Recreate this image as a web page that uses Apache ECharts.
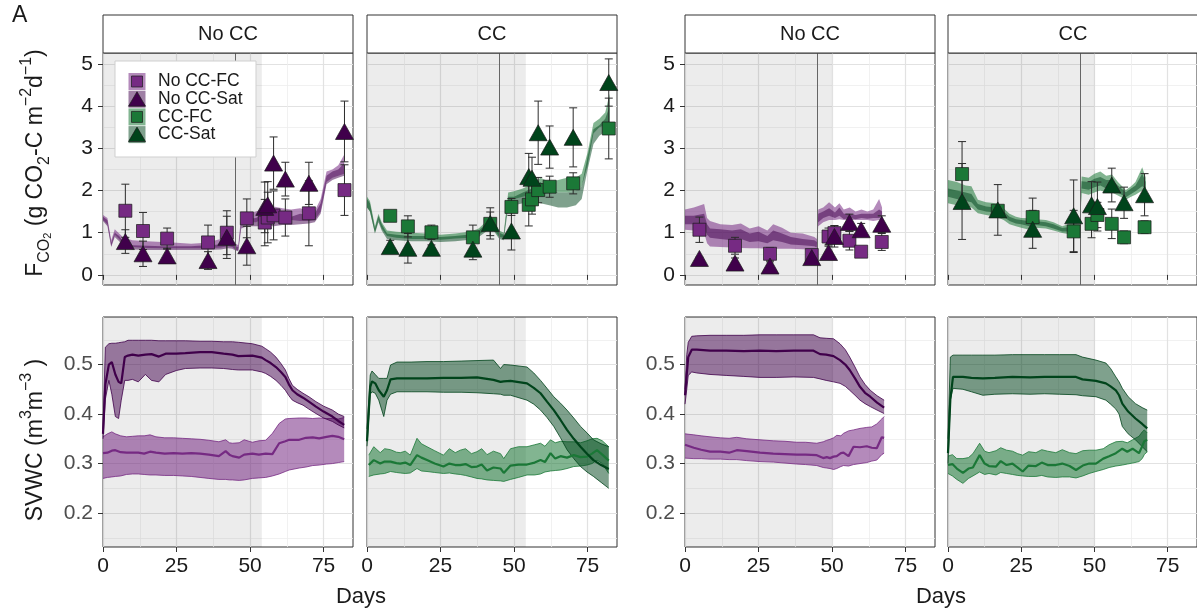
<!DOCTYPE html>
<html>
<head>
<meta charset="utf-8">
<script src="https://cdn.jsdelivr.net/npm/echarts@6/dist/echarts.min.js"></script>
<style>
html, body { margin: 0; padding: 0; background: #fff; }
#chart { width: 1197px; height: 612px; }
</style>
</head>
<body>
<div id="chart"></div>
<script>
// ---- data ----
const stripLabels = ['No CC', 'CC', 'No CC', 'CC']
const legendLabels = ['No CC-FC', 'No CC-Sat', 'CC-FC', 'CC-Sat']
const xTicks = [0, 25, 50, 75]
const fluxTicks = [0, 1, 2, 3, 4, 5]
const swcTicks = [0.2, 0.3, 0.4, 0.5]

// flux model ribbons: [day, lower, upper]
const fluxNoCC1FC = [[0,1.30,1.42],[1.5,1.20,1.35],[2.8,0.68,0.82],[4,0.95,1.08],[5.5,0.85,0.98],[7,0.72,0.88],[10,0.66,0.82],[15,0.64,0.80],[20,0.63,0.78],[25,0.63,0.76],[30,0.63,0.74],[35,0.63,0.76],[40,0.65,0.85],[42.5,0.68,0.95],[44,0.66,0.88],[45,0.60,0.75],[46,0.58,0.70],[47,1.20,1.42],[49,1.25,1.45],[52,1.25,1.50],[55,1.35,1.58],[58,1.35,1.62],[61,1.30,1.58],[64,1.30,1.55],[67,1.28,1.58],[70,1.28,1.52],[72,1.30,1.52],[74,1.50,1.80],[76,2.20,2.45],[78,2.30,2.50],[80,2.35,2.60],[82,2.40,2.85]]
const fluxNoCC1Sat = [[0,1.28,1.38],[1.5,1.15,1.30],[2.8,0.66,0.76],[4,0.90,1.00],[5.5,0.80,0.92],[7,0.65,0.78],[10,0.60,0.70],[15,0.59,0.69],[20,0.59,0.68],[25,0.59,0.68],[30,0.59,0.68],[35,0.59,0.70],[40,0.60,0.72],[42.5,0.63,0.80],[44,0.62,0.76],[45,0.58,0.68],[46,0.56,0.66],[47,1.10,1.30],[49,1.15,1.32],[52,1.15,1.35],[55,1.15,1.45],[58,1.15,1.42],[61,1.18,1.40],[64,1.18,1.38],[67,1.20,1.45],[70,1.22,1.42],[72,1.25,1.45],[74,1.45,1.70],[76,2.15,2.35],[78,2.25,2.45],[80,2.30,2.50],[82,2.35,2.65]]
const fluxCC1FC = [[0,1.60,1.85],[1,1.50,1.75],[2.7,1.00,1.15],[3.9,1.30,1.45],[5,1.10,1.25],[6.8,0.92,1.05],[10,0.88,1.02],[15,0.85,1.00],[20,0.85,0.98],[25,0.83,0.95],[30,0.86,0.98],[35,0.88,1.02],[38,0.95,1.10],[41,1.10,1.30],[43,1.10,1.30],[45,0.90,1.05],[46.5,0.88,1.00],[48,1.75,1.95],[50,1.80,1.98],[53,1.85,2.05],[56,1.90,2.15],[59,1.90,2.30],[62,1.95,2.20],[65,1.95,2.25],[68,1.95,2.30],[71,2.00,2.30],[73,2.10,2.40],[75,2.60,2.90],[77,3.35,3.60],[79,3.50,3.70],[81,3.55,3.85],[82.5,3.60,4.30]]
const fluxCC1Sat = [[0,1.60,1.80],[1,1.50,1.70],[2.7,0.98,1.10],[3.9,1.25,1.40],[5,1.05,1.20],[6.8,0.85,0.98],[10,0.82,0.95],[15,0.80,0.92],[20,0.80,0.92],[25,0.78,0.90],[30,0.80,0.92],[35,0.83,0.96],[38,0.90,1.05],[41,1.05,1.25],[43,1.05,1.25],[45,0.85,1.00],[46.5,0.82,0.95],[48,1.60,1.85],[50,1.65,1.85],[53,1.70,1.95],[56,1.75,2.05],[59,1.70,2.20],[62,1.65,2.00],[65,1.60,1.95],[68,1.60,1.95],[71,1.65,2.00],[73,1.80,2.10],[75,2.50,2.80],[77,3.10,3.45],[79,3.30,3.55],[81,3.40,3.70],[82.5,3.50,4.00]]
const fluxNoCC2FC = [[0,1.07,1.55],[3,1.05,1.60],[6.5,1.00,1.68],[7.5,0.75,1.35],[8.5,0.67,1.28],[12,0.66,1.20],[16,0.65,1.18],[19,0.64,1.22],[22,0.63,1.10],[25,0.63,1.15],[28,0.62,1.05],[30,0.62,1.20],[33,0.62,1.12],[36,0.62,1.00],[40,0.61,0.98],[44,0.60,0.90],[44.8,0.58,0.85],[45.3,1.15,1.55],[47,1.25,1.60],[49,1.30,1.72],[51,1.30,1.60],[52.5,1.32,1.70],[54,1.30,1.55],[56,1.30,1.60],[58,1.30,1.50],[60,1.30,1.55],[62,1.30,1.50],[64,1.28,1.55],[66,1.30,1.80],[67,1.35,1.60]]
const fluxNoCC2Sat = [[0,1.20,1.40],[3,1.20,1.40],[6.5,1.15,1.45],[7.5,0.95,1.20],[8.5,0.88,1.10],[12,0.85,1.08],[16,0.82,1.05],[19,0.85,1.08],[22,0.78,0.98],[25,0.80,1.02],[28,0.75,0.92],[30,0.82,1.05],[33,0.78,0.98],[36,0.72,0.90],[40,0.70,0.85],[44,0.68,0.82],[44.8,0.65,0.78],[45.3,1.25,1.45],[47,1.35,1.50],[49,1.40,1.58],[51,1.35,1.48],[52.5,1.40,1.60],[54,1.32,1.45],[56,1.35,1.45],[58,1.32,1.42],[60,1.35,1.45],[62,1.33,1.45],[64,1.35,1.45],[66,1.35,1.55],[67,1.38,1.50]]
const fluxCC2FC = [[0,1.70,2.25],[3,1.65,2.20],[6,1.62,2.12],[8,1.60,2.10],[10.2,1.46,1.78],[13,1.42,1.72],[16.4,1.38,1.70],[19,1.30,1.58],[21,1.20,1.45],[23.2,1.15,1.38],[25,1.12,1.35],[27.8,1.07,1.34],[30,1.12,1.32],[33.4,1.10,1.30],[36,1.05,1.25],[39,0.99,1.15],[41,0.97,1.20],[43.6,0.95,1.22],[45,0.96,1.20],[45.6,1.94,2.33],[48,1.90,2.30],[50,1.95,2.40],[52,2.00,2.45],[54,1.95,2.35],[56,1.95,2.38],[58,1.88,2.20],[60.7,1.78,2.01],[62.5,1.85,2.10],[64,1.90,2.20],[66.3,2.00,2.55],[67.5,1.95,2.30]]
const fluxCC2Sat = [[0,1.85,2.05],[3,1.80,2.00],[6,1.75,1.95],[8,1.72,1.92],[10.2,1.55,1.68],[13,1.50,1.62],[16.4,1.48,1.60],[19,1.38,1.50],[21,1.28,1.38],[23.2,1.22,1.32],[25,1.20,1.30],[27.8,1.15,1.27],[30,1.18,1.27],[33.4,1.15,1.25],[36,1.10,1.20],[39,1.03,1.11],[41,1.03,1.13],[43.6,1.02,1.13],[45,1.03,1.12],[45.6,2.05,2.22],[48,2.02,2.20],[50,2.08,2.28],[52,2.12,2.32],[54,2.05,2.25],[56,2.05,2.25],[58,1.95,2.12],[60.7,1.84,1.96],[62.5,1.92,2.05],[64,1.98,2.12],[66.3,2.10,2.40],[67.5,2.05,2.20]]

// measured fluxes (mean and error)
const daysNoCC1 = [7.6, 13.6, 21.8, 35.7, 42.1, 48.9, 55, 56, 58, 62, 70, 82.1]
const noCC1FC = [1.52, 1.04, 0.86, 0.77, 1.00, 1.34, 1.24, 1.36, 1.41, 1.36, 1.46, 2.01]
const noCC1FCErr = [0.63, 0.44, 0.25, 0.41, 0.52, 0.46, 0.55, 0.60, 0.58, 0.44, 0.77, 0.60]
const noCC1Sat = [0.79, 0.50, 0.45, 0.34, 0.89, 0.69, 1.60, 1.66, 2.65, 2.27, 2.17, 3.40]
const noCC1SatErr = [0.28, 0.30, 0.18, 0.21, 0.50, 0.46, 0.60, 0.55, 0.62, 0.40, 0.50, 0.72]
const daysCC1 = [7.9, 13.9, 21.9, 36, 41.9, 49.1, 55, 56.1, 58.2, 62.1, 70.1, 82.2]
const cc1FC = [1.40, 1.15, 1.01, 0.89, 1.21, 1.61, 1.66, 1.79, 2.01, 2.09, 2.17, 3.47]
const cc1FCErr = [0.03, 0.25, 0.17, 0.29, 0.28, 0.20, 0.50, 0.35, 0.30, 0.25, 0.25, 0.72]
const cc1Sat = [0.67, 0.63, 0.63, 0.61, 1.22, 1.04, 2.33, 2.29, 3.37, 3.03, 3.26, 4.56]
const cc1SatErr = [0.15, 0.35, 0.08, 0.25, 0.37, 0.45, 0.55, 0.50, 0.75, 0.50, 0.70, 0.56]
const daysNoCC2 = [4.9, 17, 28.9, 43.1, 48.8, 50.8, 55.9, 59.9, 66.9]
const noCC2FC = [1.07, 0.69, 0.50, 0.47, 0.91, 0.99, 0.81, 0.55, 0.78]
const noCC2FCErr = [0.30, 0.20, 0.15, 0.10, 0.20, 0.18, 0.22, 0.05, 0.20]
const noCC2Sat = [0.39, 0.28, 0.21, 0.41, 0.53, 0.91, 1.24, 1.07, 1.20]
const noCC2SatErr = [0.03, 0.12, 0.10, 0.10, 0.15, 0.25, 0.20, 0.15, 0.20]
const daysCC2 = [4.8, 17, 28.9, 42.9, 49, 51, 55.9, 60.1, 67.1]
const cc2FC = [2.39, 1.52, 1.37, 1.03, 1.21, 1.42, 1.21, 0.89, 1.13]
const cc2FCErr = [0.77, 0.10, 0.45, 0.50, 0.33, 0.30, 0.35, 0.15, 0.15]
const cc2Sat = [1.74, 1.54, 1.08, 1.40, 1.66, 1.62, 2.13, 1.71, 1.90]
const cc2SatErr = [0.90, 0.60, 0.45, 0.85, 0.55, 0.58, 0.40, 0.37, 0.50]

// soil water content: [day, lower, mean, upper]
const swcNoCC1Sat = [[0,0.350,0.360,0.370],[0.8,0.430,0.460,0.535],[2,0.468,0.500,0.542],[3,0.440,0.505,0.543],[4.2,0.395,0.480,0.543],[5.3,0.391,0.465,0.544],[6.2,0.428,0.462,0.545],[7.4,0.468,0.515,0.546],[8.5,0.468,0.518,0.549],[10,0.470,0.520,0.549],[12,0.465,0.518,0.549],[14.4,0.480,0.520,0.549],[16.5,0.468,0.521,0.549],[19,0.465,0.516,0.548],[21.3,0.480,0.522,0.548],[25,0.488,0.522,0.548],[28,0.492,0.523,0.548],[33,0.493,0.525,0.547],[37,0.493,0.525,0.547],[41,0.492,0.522,0.546],[44,0.490,0.520,0.546],[46,0.489,0.517,0.545],[50.8,0.489,0.518,0.542],[54,0.485,0.514,0.537],[55.3,0.482,0.509,0.532],[57,0.476,0.503,0.525],[58.8,0.468,0.495,0.515],[60.5,0.458,0.485,0.502],[62,0.448,0.475,0.489],[63.2,0.437,0.460,0.472],[64.4,0.428,0.448,0.458],[66,0.423,0.440,0.450],[68,0.418,0.433,0.442],[70,0.410,0.425,0.435],[72.4,0.401,0.415,0.425],[75,0.392,0.405,0.416],[78,0.385,0.395,0.408],[80,0.378,0.386,0.400],[82,0.372,0.378,0.395]]
const swcNoCC1FC = [[0,0.270,0.321,0.354],[1.5,0.272,0.322,0.360],[3,0.273,0.326,0.364],[4.2,0.274,0.327,0.360],[6,0.275,0.323,0.356],[8,0.278,0.322,0.354],[10,0.279,0.322,0.355],[12,0.279,0.322,0.356],[14,0.278,0.320,0.356],[16,0.277,0.324,0.358],[18,0.277,0.322,0.354],[21,0.276,0.320,0.352],[24,0.276,0.321,0.352],[27,0.275,0.320,0.351],[30,0.274,0.321,0.350],[33,0.272,0.320,0.349],[36,0.270,0.318,0.347],[39.4,0.268,0.315,0.344],[41.7,0.268,0.325,0.348],[43,0.267,0.318,0.342],[44,0.267,0.315,0.341],[46.3,0.266,0.312,0.342],[48,0.267,0.318,0.348],[50.8,0.270,0.320,0.343],[53,0.271,0.318,0.346],[55.3,0.272,0.320,0.347],[57.6,0.275,0.319,0.361],[59.9,0.279,0.341,0.381],[62,0.284,0.345,0.390],[63.3,0.287,0.348,0.391],[66.7,0.291,0.348,0.392],[69,0.293,0.352,0.392],[71.3,0.296,0.353,0.391],[73.5,0.297,0.351,0.392],[76,0.299,0.354,0.391],[78,0.300,0.356,0.391],[80,0.302,0.354,0.390],[82,0.304,0.349,0.393]]
const swcCC1Sat = [[0,0.335,0.345,0.370],[1.1,0.440,0.455,0.479],[1.7,0.445,0.466,0.487],[2.8,0.442,0.462,0.480],[4,0.428,0.448,0.472],[5.7,0.395,0.435,0.472],[6.8,0.428,0.448,0.472],[8,0.440,0.470,0.499],[10.2,0.445,0.472,0.505],[15,0.445,0.472,0.505],[20.4,0.445,0.472,0.506],[26,0.444,0.473,0.506],[32,0.444,0.473,0.507],[37.4,0.443,0.474,0.508],[43,0.441,0.469,0.509],[45.4,0.440,0.465,0.492],[46.5,0.438,0.466,0.500],[48.8,0.438,0.467,0.499],[54.4,0.428,0.462,0.495],[56.7,0.420,0.453,0.483],[59,0.408,0.442,0.468],[61.2,0.393,0.425,0.452],[63.5,0.375,0.408,0.435],[65.8,0.352,0.388,0.422],[68,0.328,0.368,0.408],[70.3,0.310,0.350,0.392],[72.6,0.294,0.334,0.375],[74.8,0.283,0.320,0.362],[77,0.274,0.307,0.348],[79.6,0.262,0.297,0.340],[82.2,0.250,0.289,0.334]]
const swcCC1FC = [[0.6,0.274,0.297,0.317],[2.3,0.277,0.307,0.334],[4.5,0.279,0.300,0.322],[6,0.280,0.304,0.330],[8,0.284,0.304,0.328],[10,0.282,0.301,0.323],[11.3,0.281,0.300,0.322],[13,0.280,0.302,0.325],[14.7,0.281,0.297,0.317],[17,0.290,0.317,0.351],[18.5,0.285,0.312,0.340],[20.4,0.284,0.307,0.334],[23,0.282,0.300,0.326],[26,0.280,0.294,0.317],[28,0.281,0.300,0.330],[30,0.279,0.297,0.322],[31.7,0.278,0.297,0.327],[33.5,0.276,0.299,0.330],[35.5,0.273,0.293,0.320],[37.4,0.270,0.294,0.324],[39,0.269,0.298,0.330],[40.8,0.267,0.286,0.318],[43,0.266,0.292,0.325],[45.4,0.265,0.290,0.320],[46.5,0.264,0.281,0.310],[48.8,0.268,0.296,0.330],[51.5,0.272,0.298,0.334],[54.4,0.277,0.298,0.334],[57,0.277,0.302,0.338],[59,0.279,0.307,0.341],[60.5,0.283,0.303,0.335],[62.4,0.285,0.321,0.348],[64,0.286,0.310,0.342],[65.8,0.287,0.315,0.345],[68,0.290,0.312,0.344],[70.3,0.294,0.317,0.344],[72.6,0.295,0.313,0.342],[74.8,0.297,0.314,0.346],[76.5,0.300,0.320,0.350],[78.2,0.307,0.327,0.351],[80,0.300,0.318,0.346],[82.2,0.280,0.306,0.334]]
const swcNoCC2Sat = [[0,0.420,0.438,0.450],[0.6,0.450,0.480,0.520],[1.1,0.478,0.515,0.545],[2.3,0.485,0.530,0.557],[4,0.483,0.530,0.558],[8.5,0.480,0.528,0.559],[14,0.478,0.528,0.559],[20,0.476,0.527,0.559],[25.5,0.474,0.528,0.560],[31,0.474,0.527,0.560],[37,0.475,0.528,0.560],[43.7,0.474,0.528,0.560],[45.9,0.471,0.521,0.554],[48,0.468,0.520,0.553],[50.5,0.465,0.517,0.552],[52.7,0.462,0.509,0.542],[54.5,0.456,0.500,0.530],[56,0.448,0.489,0.515],[57.8,0.438,0.472,0.495],[59.5,0.428,0.455,0.475],[61.2,0.421,0.443,0.460],[63,0.415,0.435,0.448],[65.3,0.408,0.423,0.437],[67.7,0.401,0.413,0.428]]
const swcNoCC2FC = [[0,0.311,0.338,0.360],[3,0.310,0.332,0.358],[5.5,0.310,0.328,0.356],[8.5,0.309,0.324,0.354],[12,0.309,0.324,0.352],[15,0.308,0.322,0.351],[17.6,0.308,0.327,0.353],[21,0.306,0.325,0.350],[25.5,0.304,0.322,0.348],[30,0.303,0.320,0.346],[34,0.301,0.319,0.345],[38,0.299,0.318,0.343],[41,0.298,0.318,0.343],[44.8,0.296,0.317,0.341],[47,0.292,0.311,0.344],[48.2,0.291,0.313,0.347],[49.3,0.290,0.311,0.349],[50.5,0.288,0.314,0.352],[51.6,0.290,0.315,0.357],[53,0.294,0.321,0.356],[53.9,0.296,0.322,0.361],[55.6,0.295,0.315,0.366],[57.3,0.298,0.334,0.368],[59.5,0.300,0.333,0.371],[61.8,0.302,0.335,0.373],[63.5,0.305,0.332,0.374],[65.2,0.307,0.331,0.380],[66.9,0.318,0.353,0.390],[67.7,0.321,0.352,0.395]]
const swcCC2Sat = [[0,0.300,0.321,0.350],[0.8,0.428,0.430,0.515],[1.7,0.452,0.475,0.519],[5.1,0.450,0.475,0.519],[8,0.445,0.473,0.519],[11.9,0.438,0.472,0.519],[16,0.440,0.473,0.519],[22,0.441,0.475,0.520],[28,0.440,0.474,0.520],[33,0.441,0.475,0.520],[38,0.440,0.475,0.520],[43.7,0.439,0.475,0.520],[45.9,0.437,0.470,0.515],[50.5,0.435,0.467,0.509],[53.9,0.428,0.462,0.503],[55.5,0.420,0.456,0.492],[57.3,0.410,0.448,0.475],[58.4,0.400,0.438,0.465],[59.5,0.375,0.421,0.452],[61.5,0.360,0.405,0.435],[64,0.348,0.391,0.421],[66.3,0.334,0.380,0.413],[68,0.324,0.371,0.408]]
const swcCC2FC = [[0,0.280,0.297,0.315],[1.5,0.275,0.299,0.318],[3,0.268,0.290,0.310],[5.1,0.260,0.281,0.310],[7,0.270,0.290,0.312],[8.5,0.275,0.292,0.320],[10.8,0.283,0.317,0.341],[12.5,0.278,0.300,0.325],[14,0.280,0.295,0.322],[16.4,0.277,0.294,0.326],[18,0.282,0.305,0.332],[20,0.280,0.297,0.327],[22,0.278,0.300,0.325],[23.8,0.276,0.292,0.320],[25.5,0.275,0.284,0.317],[27.5,0.274,0.296,0.324],[30,0.274,0.295,0.322],[32,0.276,0.302,0.328],[34,0.273,0.297,0.325],[36.8,0.272,0.297,0.322],[39,0.273,0.300,0.328],[41.5,0.273,0.295,0.322],[43.7,0.271,0.287,0.320],[46,0.275,0.296,0.326],[48.2,0.280,0.300,0.327],[50.5,0.284,0.300,0.327],[53,0.288,0.310,0.330],[55,0.292,0.315,0.338],[57.3,0.295,0.321,0.344],[59.5,0.297,0.330,0.345],[61.2,0.299,0.324,0.342],[63,0.301,0.330,0.348],[65.2,0.304,0.321,0.355],[66.3,0.310,0.335,0.364],[67,0.318,0.345,0.368],[68,0.324,0.348,0.362]]

// shaded period end and sampling-start line per column
const shadeEnd = [54, 54, 50, 50]
const startLine = 45

// ---- styling ----
const FONT = '"Liberation Sans", Arial, sans-serif'
const colFC = ['#762a83', '#1b7837', '#762a83', '#1b7837']
const colSat = ['#40004b', '#00441b', '#40004b', '#00441b']
const panelLeft = [103, 367, 685, 948]
const panelW = 250
const rowTop = [53, 317]
const rowH = [232, 230]

function rgba(hex, a) {
  const n = parseInt(hex.slice(1), 16)
  return `rgba(${n >> 16},${(n >> 8) & 255},${n & 255},${a})`
}

const panels = [
  { rows: [fluxNoCC1FC, fluxNoCC1Sat], days: daysNoCC1, fc: noCC1FC, fcErr: noCC1FCErr, sat: noCC1Sat, satErr: noCC1SatErr },
  { rows: [fluxCC1FC, fluxCC1Sat], days: daysCC1, fc: cc1FC, fcErr: cc1FCErr, sat: cc1Sat, satErr: cc1SatErr },
  { rows: [fluxNoCC2FC, fluxNoCC2Sat], days: daysNoCC2, fc: noCC2FC, fcErr: noCC2FCErr, sat: noCC2Sat, satErr: noCC2SatErr },
  { rows: [fluxCC2FC, fluxCC2Sat], days: daysCC2, fc: cc2FC, fcErr: cc2FCErr, sat: cc2Sat, satErr: cc2SatErr }
]
const swcPanels = [
  [swcNoCC1FC, swcNoCC1Sat], [swcCC1FC, swcCC1Sat], [swcNoCC2FC, swcNoCC2Sat], [swcCC2FC, swcCC2Sat]
]

const grids = [], xAxes = [], yAxes = [], series = []

for (let i = 0; i < 8; i++) {
  const row = i < 4 ? 0 : 1
  const col = i % 4
  grids.push({ left: panelLeft[col], top: rowTop[row], width: panelW, height: rowH[row],
    show: true, borderColor: '#333', borderWidth: 1, backgroundColor: '#fff' })
  xAxes.push({
    type: 'value', gridIndex: i, min: 0, max: 85, minInterval: 25, maxInterval: 25,
    axisLine: { show: false },
    axisTick: { show: true, length: 5, customValues: xTicks, lineStyle: { color: '#333' } },
    axisLabel: { show: row === 1, customValues: xTicks, fontSize: 21, fontFamily: FONT, color: '#1a1a1a', margin: 9 },
    splitLine: { show: true, lineStyle: { color: '#e2e2e2', width: 1.2 } },
    minorTick: { show: false, splitNumber: 2 },
    minorSplitLine: { show: true, lineStyle: { color: '#eeeeee', width: 0.8 } }
  })
  const showY = col === 0 || col === 2
  yAxes.push({
    type: 'value', gridIndex: i,
    min: row === 0 ? -0.24 : 0.1315, max: row === 0 ? 5.26 : 0.596,
    minInterval: row === 0 ? 1 : 0.1, maxInterval: row === 0 ? 1 : 0.1,
    axisLine: { show: false },
    axisTick: { show: showY, length: 5, customValues: row === 0 ? fluxTicks : swcTicks, lineStyle: { color: '#333' } },
    axisLabel: { show: showY, customValues: row === 0 ? fluxTicks : swcTicks, fontSize: 21, fontFamily: FONT,
      color: row === 0 ? '#1a1a1a' : '#4d4d4d', margin: 10 },
    splitLine: { show: true, lineStyle: { color: '#e2e2e2', width: 1.2 } },
    minorTick: { show: false, splitNumber: 2 },
    minorSplitLine: { show: true, lineStyle: { color: '#eeeeee', width: 0.8 } }
  })

  // grey shaded period + vertical line
  series.push({
    type: 'line', xAxisIndex: i, yAxisIndex: i, data: [], silent: true, z: 1,
    markArea: { silent: true, itemStyle: { color: 'rgba(0,0,0,0.075)' }, data: [[{ xAxis: 0 }, { xAxis: shadeEnd[col] }]] },
    markLine: row === 0 ? { silent: true, symbol: 'none', label: { show: false },
      lineStyle: { color: '#666', width: 1, type: 'solid' }, data: [{ xAxis: startLine }] } : undefined
  })
}

function ribbon(idx, rows, color, alpha, hiCol, outline) {
  return {
    type: 'custom', xAxisIndex: idx, yAxisIndex: idx, z: 3, silent: true,
    data: rows, encode: { x: 0, y: [1, hiCol] },
    renderItem: function (params, api) {
      if (params.dataIndex !== 0) return null
      const top = rows.map(r => api.coord([r[0], r[hiCol]]))
      const bot = rows.map(r => api.coord([r[0], r[1]]))
      const kids = [{ type: 'polygon', shape: { points: top.concat(bot.slice().reverse()) },
        style: { fill: rgba(color, alpha) } }]
      if (outline) {
        kids.push({ type: 'polyline', shape: { points: top }, style: { stroke: color, lineWidth: 0.8, fill: null } })
        kids.push({ type: 'polyline', shape: { points: bot }, style: { stroke: color, lineWidth: 0.8, fill: null } })
      }
      return { type: 'group', children: kids }
    }
  }
}

function errorBars(idx, days, vals, errs) {
  return {
    type: 'custom', xAxisIndex: idx, yAxisIndex: idx, z: 5, silent: true,
    data: days.map((d, k) => [d, vals[k], errs[k]]),
    encode: { x: 0, y: 1 },
    renderItem: function (params, api) {
      const x = api.value(0), v = api.value(1), e = api.value(2)
      const hi = api.coord([x, v + e]), lo = api.coord([x, v - e])
      const st = { stroke: '#2b2b2b', lineWidth: 1 }
      return { type: 'group', children: [
        { type: 'line', shape: { x1: hi[0], y1: hi[1], x2: lo[0], y2: lo[1] }, style: st },
        { type: 'line', shape: { x1: hi[0] - 4, y1: hi[1], x2: hi[0] + 4, y2: hi[1] }, style: st },
        { type: 'line', shape: { x1: lo[0] - 4, y1: lo[1], x2: lo[0] + 4, y2: lo[1] }, style: st }
      ] }
    }
  }
}

// top row: flux
panels.forEach((p, col) => {
  series.push(ribbon(col, p.rows[0], colFC[col], 0.55, 2, false))
  series.push(ribbon(col, p.rows[1], colSat[col], 0.5, 2, false))
  series.push(errorBars(col, p.days, p.fc, p.fcErr))
  series.push(errorBars(col, p.days, p.sat, p.satErr))
  series.push({ type: 'scatter', xAxisIndex: col, yAxisIndex: col, z: 6, silent: true,
    symbol: 'rect', symbolSize: 13,
    itemStyle: { color: colFC[col], borderColor: '#1a1a1a', borderWidth: 0.7, opacity: 1 },
    data: p.days.map((d, k) => [d, p.fc[k]]) })
  series.push({ type: 'scatter', xAxisIndex: col, yAxisIndex: col, z: 7, silent: true,
    symbol: 'triangle', symbolSize: [18, 16],
    itemStyle: { color: colSat[col], borderColor: '#1a1a1a', borderWidth: 0.7, opacity: 1 },
    data: p.days.map((d, k) => [d, p.sat[k]]) })
})

// bottom row: soil water content
swcPanels.forEach((pair, col) => {
  const idx = col + 4
  series.push(ribbon(idx, pair[0], colFC[col], 0.55, 3, true))
  series.push(ribbon(idx, pair[1], colSat[col], 0.5, 3, true))
  pair.forEach((rows, k) => {
    series.push({ type: 'line', xAxisIndex: idx, yAxisIndex: idx, z: 4, silent: true,
      showSymbol: false, symbol: 'none',
      lineStyle: { color: k === 0 ? colFC[col] : colSat[col], width: 2.2 },
      data: rows.map(r => [r[0], r[2]]) })
  })
})

// ---- annotations ----
const graphic = []
stripLabels.forEach((lab, col) => {
  graphic.push({ type: 'rect', z: 50, shape: { x: panelLeft[col], y: 15, width: panelW, height: 38 },
    style: { fill: '#fff', stroke: '#333', lineWidth: 1 } })
  graphic.push({ type: 'text', z: 51, x: panelLeft[col] + panelW / 2, y: 34,
    style: { text: lab, font: `20px ${FONT}`, fill: '#1a1a1a', align: 'center', verticalAlign: 'middle' } })
})

// legend box
graphic.push({ type: 'rect', z: 60, shape: { x: 115, y: 61, width: 141, height: 96 },
  style: { fill: '#fff', stroke: '#cfcfcf', lineWidth: 1 } })
legendLabels.forEach((lab, k) => {
  const cy = 81.5 + k * 17.7
  const c = k < 2 ? 0 : 1
  const isSat = k % 2 === 1
  const col = isSat ? colSat[c] : colFC[c]
  graphic.push({ type: 'rect', z: 61, shape: { x: 128.5, y: cy - 8.5, width: 17, height: 17 },
    style: { fill: rgba(col, isSat ? 0.5 : 0.55) } })
  if (isSat) {
    graphic.push({ type: 'polygon', z: 62, shape: { points: [[137, cy - 7.5], [145.5, cy + 7], [128.5, cy + 7]] },
      style: { fill: col, stroke: '#1a1a1a', lineWidth: 0.7 } })
  } else {
    graphic.push({ type: 'rect', z: 62, shape: { x: 131.5, y: cy - 5.5, width: 11, height: 11 },
      style: { fill: col, stroke: '#1a1a1a', lineWidth: 0.7 } })
  }
  graphic.push({ type: 'text', z: 62, x: 158, y: cy,
    style: { text: lab, font: `17.5px ${FONT}`, fill: '#1a1a1a', align: 'left', verticalAlign: 'middle' } })
})

const titleRich = {
  m: { fontSize: 23, fontFamily: FONT, lineHeight: 34, fill: '#1a1a1a' },
  sub: { fontSize: 16, fontFamily: FONT, lineHeight: 16, verticalAlign: 'bottom', fill: '#1a1a1a' },
  sub2: { fontSize: 11, fontFamily: FONT, lineHeight: 8, verticalAlign: 'bottom', fill: '#1a1a1a' },
  sup: { fontSize: 16, fontFamily: FONT, lineHeight: 16, verticalAlign: 'top', fill: '#1a1a1a' }
}
graphic.push({ type: 'text', z: 50, x: 36, y: 163, rotation: Math.PI / 2,
  style: { text: '{m|F}{sub|CO}{sub2|2}{m| (g CO}{sub|2}{m|-C m}{sup|−2}{m|d}{sup|−1}{m|)}', rich: titleRich,
    align: 'center', verticalAlign: 'middle' } })
graphic.push({ type: 'text', z: 50, x: 36, y: 440, rotation: Math.PI / 2,
  style: { text: '{m|SVWC (m}{sup|3}{m|m}{sup|−3}{m| )}', rich: titleRich, align: 'center', verticalAlign: 'middle' } })
graphic.push({ type: 'text', z: 50, x: 361, y: 597,
  style: { text: 'Days', font: `22px ${FONT}`, fill: '#1a1a1a', align: 'center', verticalAlign: 'middle' } })
graphic.push({ type: 'text', z: 50, x: 941, y: 597,
  style: { text: 'Days', font: `22px ${FONT}`, fill: '#1a1a1a', align: 'center', verticalAlign: 'middle' } })
graphic.push({ type: 'text', z: 50, x: 12, y: 16,
  style: { text: 'A', font: `23px ${FONT}`, fill: '#1a1a1a', align: 'left', verticalAlign: 'middle' } })

const chart = echarts.init(document.getElementById('chart'))
chart.setOption({
  animation: false,
  backgroundColor: '#fff',
  textStyle: { fontFamily: FONT },
  grid: grids,
  xAxis: xAxes,
  yAxis: yAxes,
  series: series,
  graphic: graphic
})
window.addEventListener('resize', () => chart.resize())
</script>
</body>
</html>
